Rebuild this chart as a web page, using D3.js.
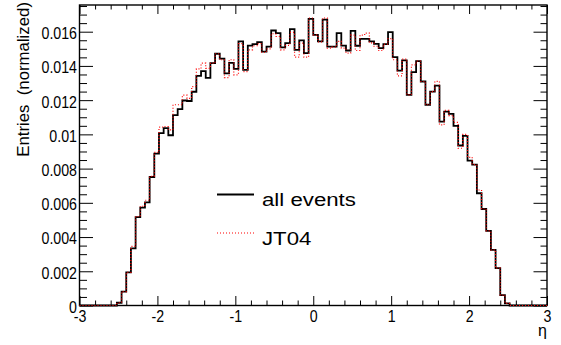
<!DOCTYPE html>
<html>
<head>
<meta charset="utf-8">
<script src="https://cdn.jsdelivr.net/npm/d3@7"></script>
<style>
  html, body { margin: 0; padding: 0; background: #fff; }
  svg { display: block; font-family: "Liberation Sans", Arial, Helvetica, sans-serif; }
  text { white-space: pre; }
</style>
</head>
<body>
<svg id="chart" width="561" height="345"></svg>
<script>
// Histogram binning along eta
const etaRange = [-3, 3];
const nBins = 100;

// Normalized entries per bin: all events
const allEvents = [
  0, 0, 0, 0, 0, 0, 0, 0, 0.00016, 0.00081,
  0.00194, 0.00334, 0.00516, 0.00572, 0.00603, 0.00751, 0.00888, 0.01007, 0.01036, 0.00995,
  0.01112, 0.01147, 0.01198, 0.01195, 0.01249, 0.01342, 0.01370, 0.01330, 0.01416, 0.01471,
  0.01443, 0.01356, 0.01418, 0.01383, 0.01543, 0.01377, 0.01519, 0.01527, 0.01539, 0.01484,
  0.01513, 0.01607, 0.01592, 0.01508, 0.01533, 0.01615, 0.01494, 0.01549, 0.01475, 0.01675,
  0.01582, 0.01543, 0.01670, 0.01513, 0.01513, 0.01592, 0.01519, 0.01490, 0.01605, 0.01518,
  0.01558, 0.01558, 0.01543, 0.01529, 0.01504, 0.01527, 0.01598, 0.01451, 0.01373, 0.01432,
  0.01231, 0.01364, 0.01428, 0.01309, 0.01173, 0.01250, 0.01285, 0.01075, 0.01133, 0.01120,
  0.01050, 0.00935, 0.00991, 0.00847, 0.00823, 0.00656, 0.00564, 0.00436, 0.00325, 0.00218,
  0.00061, 0.00013, 0, 0, 0, 0, 0, 0, 0, 0
];

// Normalized entries per bin: JT04 trigger
const jt04 = [
  0, 0, 0, 0, 0, 0, 0, 0, 0.00016, 0.00081,
  0.00194, 0.00345, 0.00520, 0.00580, 0.00615, 0.00755, 0.00895, 0.01042, 0.01046, 0.01026,
  0.01173, 0.01173, 0.01229, 0.01210, 0.01279, 0.01383, 0.01416, 0.01386, 0.01416, 0.01471,
  0.01436, 0.01332, 0.01436, 0.01348, 0.01530, 0.01367, 0.01494, 0.01518, 0.01530, 0.01480,
  0.01500, 0.01588, 0.01572, 0.01494, 0.01520, 0.01596, 0.01451, 0.01533, 0.01451, 0.01680,
  0.01582, 0.01540, 0.01680, 0.01504, 0.01510, 0.01543, 0.01504, 0.01475, 0.01580, 0.01490,
  0.01580, 0.01592, 0.01535, 0.01515, 0.01490, 0.01527, 0.01560, 0.01436, 0.01342, 0.01440,
  0.01231, 0.01406, 0.01428, 0.01309, 0.01173, 0.01250, 0.01310, 0.01056, 0.01140, 0.01110,
  0.01070, 0.00919, 0.01000, 0.00866, 0.00823, 0.00675, 0.00564, 0.00436, 0.00325, 0.00218,
  0.00061, 0.00013, 0, 0, 0, 0, 0, 0, 0, 0
];

const yMax = 0.01756;
const xMajorTicks = [-3, -2, -1, 0, 1, 2, 3];
const yMajorTicks = [0, 0.002, 0.004, 0.006, 0.008, 0.01, 0.012, 0.014, 0.016];
const legendLabels = ["all events", "JT04"];
const xTitle = "\u03b7";
const yTitle = "Entries  (normalized)";

// Frame geometry
const frame = { left: 79.5, right: 547, top: 5, bottom: 305.5 };

const svg = d3.select("#chart");

const x = d3.scaleLinear().domain(etaRange).range([frame.left, frame.right]);
const y = d3.scaleLinear().domain([0, yMax]).range([frame.bottom, frame.top]);

const binW = (etaRange[1] - etaRange[0]) / nBins;
const edges = d3.range(nBins + 1).map(i => etaRange[0] + i * binW);

// Minor tick positions
const xMinor = d3.range(0, 31).map(i => -3 + i * 0.2).filter(v => !xMajorTicks.some(m => Math.abs(m - v) < 1e-9));
const yMinor = d3.range(0, 36).map(i => i * 0.0005).filter(v => v <= yMax && !yMajorTicks.some(m => Math.abs(m - v) < 1e-12));

const fmtY = d => d === 0 ? "0" : String(+d.toFixed(4));

// Squeeze or stretch a text horizontally by a factor
function scaleTextWidth(sel, factor) {
  sel.each(function () {
    const w = this.getComputedTextLength();
    if (w > 0) {
      d3.select(this).attr("textLength", w * factor).attr("lengthAdjust", "spacingAndGlyphs");
    }
  });
}

function styleAxis(g) {
  g.select(".domain").remove();
  g.selectAll(".tick line").attr("stroke", "#000").attr("stroke-width", 1);
  g.selectAll(".tick text").attr("fill", "#000").attr("font-size", 16.5)
    .attr("font-family", "'Liberation Sans', Arial, sans-serif");
  scaleTextWidth(g.selectAll(".tick text"), 0.86);
}

// Frame (drawn first so the histogram outlines sit on top of it)
svg.append("rect")
  .attr("x", frame.left).attr("y", frame.top)
  .attr("width", frame.right - frame.left).attr("height", frame.bottom - frame.top)
  .attr("fill", "none").attr("stroke", "#000").attr("stroke-width", 1.4);

// Bottom axis: labelled majors, inward ticks
svg.append("g")
  .attr("transform", `translate(0,${frame.bottom})`)
  .call(d3.axisBottom(x).tickValues(xMajorTicks).tickSize(-9.5).tickPadding(5)
    .tickFormat(d => d3.format("d")(d).replace("\u2212", "-")))
  .call(styleAxis);
svg.append("g")
  .attr("transform", `translate(0,${frame.bottom})`)
  .call(d3.axisBottom(x).tickValues(xMinor).tickSize(-5).tickFormat(""))
  .call(styleAxis);

// Top axis: ticks only
svg.append("g")
  .attr("transform", `translate(0,${frame.top})`)
  .call(d3.axisTop(x).tickValues(xMajorTicks).tickSize(-9).tickFormat(""))
  .call(styleAxis);
svg.append("g")
  .attr("transform", `translate(0,${frame.top})`)
  .call(d3.axisTop(x).tickValues(xMinor).tickSize(-4.5).tickFormat(""))
  .call(styleAxis);

// Left axis: labelled majors
const leftAxis = svg.append("g")
  .attr("transform", `translate(${frame.left},0)`)
  .call(d3.axisLeft(y).tickValues(yMajorTicks).tickSize(-13.5).tickPadding(2.5).tickFormat(fmtY))
  .call(styleAxis);
leftAxis.selectAll(".tick text").attr("dy", "0.42em");
svg.append("g")
  .attr("transform", `translate(${frame.left},0)`)
  .call(d3.axisLeft(y).tickValues(yMinor).tickSize(-7.5).tickFormat(""))
  .call(styleAxis);

// Right axis: ticks only
svg.append("g")
  .attr("transform", `translate(${frame.right},0)`)
  .call(d3.axisRight(y).tickValues(yMajorTicks).tickSize(-13.5).tickFormat(""))
  .call(styleAxis);
svg.append("g")
  .attr("transform", `translate(${frame.right},0)`)
  .call(d3.axisRight(y).tickValues(yMinor).tickSize(-6.5).tickFormat(""))
  .call(styleAxis);

// Step outline of a histogram
const stepLine = d3.line()
  .x(d => x(d[0]))
  .y(d => y(d[1]))
  .curve(d3.curveStepAfter);

function histPoints(values) {
  const pts = values.map((v, i) => [edges[i], v]);
  pts.push([edges[nBins], values[nBins - 1]]);
  return pts;
}

svg.append("path")
  .attr("d", stepLine(histPoints(allEvents)))
  .attr("fill", "none")
  .attr("stroke", "#000")
  .attr("stroke-width", 1.8);

svg.append("path")
  .attr("d", stepLine(histPoints(jt04)))
  .attr("fill", "none")
  .attr("stroke", "#ff0000")
  .attr("stroke-width", 1.2)
  .attr("stroke-dasharray", "1,2");

// Axis titles
svg.append("text")
  .attr("x", frame.right).attr("y", 336)
  .attr("text-anchor", "end")
  .attr("font-size", 16)
  .text(xTitle);

svg.append("text")
  .attr("transform", `translate(29,2) rotate(-90)`)
  .attr("text-anchor", "end")
  .attr("font-size", 16.8)
  .text(yTitle);

// Legend
const legend = svg.append("g");
const legendRows = [
  { label: legendLabels[0], stroke: "#000", width: 1.8, dash: null, yc: 194.5 },
  { label: legendLabels[1], stroke: "#ff0000", width: 1.2, dash: "1,2", yc: 233 }
];
legendRows.forEach(r => {
  legend.append("line")
    .attr("x1", 217).attr("x2", 254)
    .attr("y1", r.yc).attr("y2", r.yc)
    .attr("stroke", r.stroke).attr("stroke-width", r.width)
    .attr("stroke-dasharray", r.dash);
  legend.append("text")
    .attr("x", 262).attr("y", r.yc + 11.5)
    .attr("font-size", 17.5)
    .text(r.label);
});
scaleTextWidth(legend.selectAll("text"), 1.27);
</script>
</body>
</html>
